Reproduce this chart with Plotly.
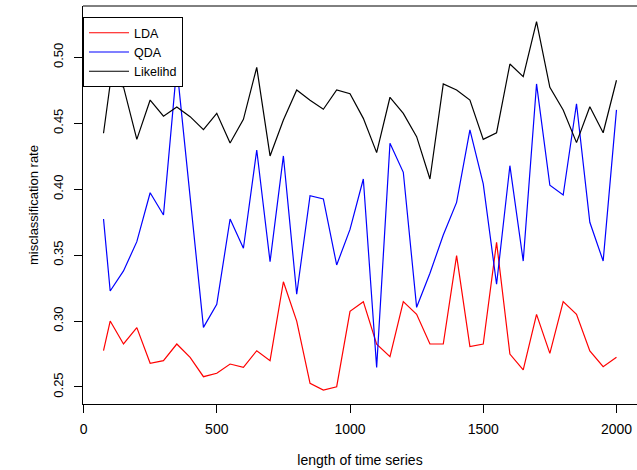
import plotly.graph_objects as go

series_length = [75, 100, 150, 200, 250, 300, 350, 400, 450, 500,
                 550, 600, 650, 700, 750, 800, 850, 900, 950, 1000,
                 1050, 1100, 1150, 1200, 1250, 1300, 1350, 1400, 1450, 1500,
                 1550, 1600, 1650, 1700, 1750, 1800, 1850, 1900, 1950, 2000]

lda = [0.2775, 0.300, 0.2826, 0.295, 0.268, 0.270, 0.2826, 0.2725, 0.2578, 0.2604,
       0.2674, 0.2649, 0.2775, 0.270, 0.3298, 0.300, 0.2528, 0.2477, 0.2502, 0.3074,
       0.3147, 0.2824, 0.273, 0.3147, 0.3051, 0.2826, 0.2826, 0.3496, 0.2806, 0.2826,
       0.3597, 0.275, 0.2629, 0.3051, 0.2755, 0.3147, 0.3051, 0.2773, 0.2654, 0.2725]

qda = [0.3774, 0.3228, 0.338, 0.3602, 0.3973, 0.3804, 0.4929, 0.3943, 0.2952, 0.3127,
       0.3774, 0.3552, 0.4297, 0.345, 0.4252, 0.3203, 0.3951, 0.3926, 0.3425, 0.3695,
       0.4077, 0.2649, 0.4348, 0.4128, 0.3104, 0.3362, 0.3653, 0.390, 0.4449, 0.404,
       0.3279, 0.4178, 0.3455, 0.4798, 0.403, 0.3956, 0.4648, 0.3749, 0.3455, 0.4601]

likelihd = [0.4424, 0.4798, 0.4775, 0.4378, 0.4676, 0.4553, 0.4623, 0.455, 0.4451, 0.4575,
            0.435, 0.453, 0.4924, 0.4252, 0.4525, 0.4752, 0.4675, 0.4606, 0.4752, 0.4724,
            0.4537, 0.4277, 0.4697, 0.4575, 0.4398, 0.4077, 0.4798, 0.4752, 0.4676, 0.4378,
            0.4428, 0.4949, 0.4853, 0.527, 0.4772, 0.4601, 0.4353, 0.4625, 0.4428, 0.4826]

x_ticks = [0, 500, 1000, 1500, 2000]
y_ticks = [0.25, 0.30, 0.35, 0.40, 0.45, 0.50]
y_tick_text = ["0.25", "0.30", "0.35", "0.40", "0.45", "0.50"]

FONT = "Liberation Sans, Arial, Helvetica, sans-serif"

fig = go.Figure()
fig.add_trace(go.Scatter(x=series_length, y=lda, mode="lines", name="LDA",
                         line=dict(color="#FF0000", width=1.2)))
fig.add_trace(go.Scatter(x=series_length, y=qda, mode="lines", name="QDA",
                         line=dict(color="#0000FF", width=1.2)))
fig.add_trace(go.Scatter(x=series_length, y=likelihd, mode="lines", name="Likelihd",
                         line=dict(color="#000000", width=1.2)))

fig.update_layout(
    width=637, height=470,
    margin=dict(l=83, r=0, t=6, b=66, autoexpand=False),
    paper_bgcolor="white", plot_bgcolor="white",
    font=dict(family=FONT, size=13, color="black"),
    showlegend=True,
    legend=dict(x=0, y=0.972, xanchor="left", yanchor="top",
                bgcolor="white", bordercolor="black", borderwidth=1,
                font=dict(family=FONT, size=12.5, color="black"),
                itemwidth=40, tracegroupgap=0),
    xaxis=dict(range=[-2, 2077], tickvals=x_ticks, ticks="outside", ticklen=8,
               tickcolor="black", showline=True, linecolor="black", linewidth=1,
               showgrid=False, zeroline=False, ticklabelstandoff=4, automargin=False,
               tickfont=dict(family=FONT, size=14),
               title=dict(text="length of time series", standoff=19,
                          font=dict(family=FONT, size=14))),
    yaxis=dict(range=[0.2371, 0.5389], tickvals=y_ticks, ticktext=y_tick_text,
               tickangle=-90, ticks="outside", ticklen=8, tickcolor="black",
               showline=True, linecolor="black", linewidth=1,
               showgrid=False, zeroline=False, ticklabelstandoff=6, automargin=False,
               tickfont=dict(family=FONT, size=13),
               title=dict(text="misclassification rate", standoff=9,
                          font=dict(family=FONT, size=13))),
    shapes=[dict(type="line", xref="paper", yref="paper", x0=0, x1=1, y0=1, y1=1,
                 line=dict(color="black", width=1))],
)

fig.write_html("out.html",
               config={"displayModeBar": False},
               post_script="document.body.style.margin='0';"
                           "document.body.style.padding='0';"
                           "document.body.style.overflow='hidden';")
